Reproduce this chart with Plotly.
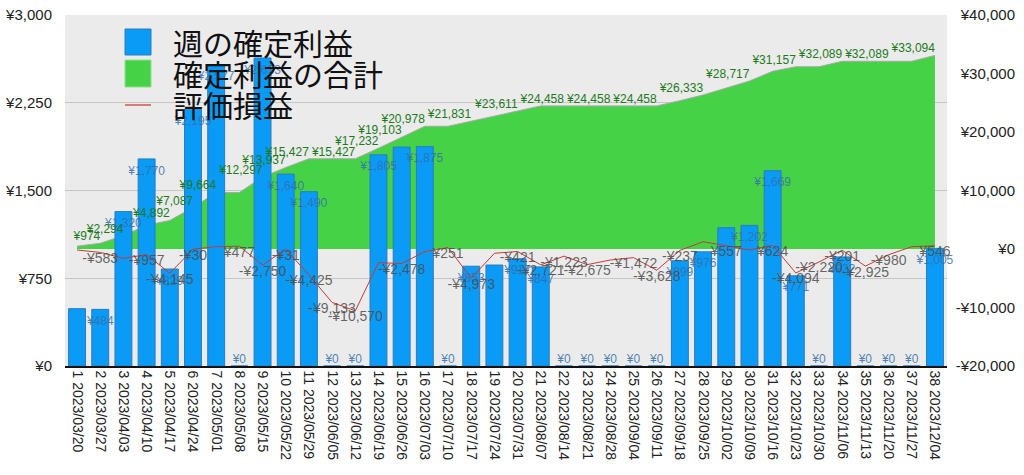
import plotly.graph_objects as go

# ---------------- data ----------------
dates = ["2023/03/20", "2023/03/27", "2023/04/03", "2023/04/10", "2023/04/17", "2023/04/24",
         "2023/05/01", "2023/05/08", "2023/05/15", "2023/05/22", "2023/05/29", "2023/06/05",
         "2023/06/12", "2023/06/19", "2023/06/26", "2023/07/03", "2023/07/10", "2023/07/17",
         "2023/07/24", "2023/07/31", "2023/08/07", "2023/08/14", "2023/08/21", "2023/08/28",
         "2023/09/04", "2023/09/11", "2023/09/18", "2023/09/25", "2023/10/02", "2023/10/09",
         "2023/10/16", "2023/10/23", "2023/10/30", "2023/11/06", "2023/11/13", "2023/11/20",
         "2023/11/27", "2023/12/04"]
categories = [f"{i + 1} {d}" for i, d in enumerate(dates)]

weekly_profit = [490, 484, 1320, 1770, 829, 2195, 2577, 0, 2633, 1640, 1490, 0, 0, 1805,
                 1871, 1875, 0, 853, 863, 917, 847, 0, 0, 0, 0, 0, 899, 976, 1182, 1202,
                 1669, 771, 0, 932, 0, 0, 0, 1005]

cumulative_profit = [490, 974, 2294, 4064, 4892, 7087, 9664, 9664, 12297, 13937, 15427,
                     15427, 15427, 17232, 19103, 20978, 20978, 21831, 22694, 23611, 24458,
                     24458, 24458, 24458, 24458, 24458, 25357, 26333, 27515, 28717, 30386,
                     31157, 31157, 32089, 32089, 32089, 32089, 33094]

unrealized = [-170, -583, -1590, -957, -4145, -30, 400, 477, -2750, -31, -4425, -9133,
              -10570, -2342, -2478, -461, 251, -4973, -735, -421, -2721, -1223, -2675,
              -1880, -1472, -3628, -237, 1250, 557, -170, 624, -4094, -2220, -201, -2925,
              -980, 393, 546]

# weeks whose data label is hidden (overlap-hidden in the original)
bar_label_hidden = [1, 15, 19, 29]
line_label_hidden = [1, 3, 7, 14, 16, 19, 24, 28, 30, 37]
area_label_hidden = [1, 4, 8, 12, 17, 19, 21, 23, 25, 27, 29, 31, 33, 35, 37]

left_ticks = [0, 750, 1500, 2250, 3000]
right_ticks = [-20000, -10000, 0, 10000, 20000, 30000, 40000]

series_names = ["週の確定利益", "確定利益の合計", "評価損益"]


def yen(v):
    return f"-¥{abs(v):,}" if v < 0 else f"¥{v:,}"


# ---------------- styling ----------------
FONT = "Liberation Sans, Arial, sans-serif"
JP = "Noto Sans CJK JP"
BLUE = "#0a9bf6"
BLUE_EDGE = "#2a7cc0"
GREEN = "#46d246"
RED = "#c23a3a"

fig = go.Figure()

# cumulative area (main hidden axis, same scale as right axis)
fig.add_trace(go.Scatter(
    x=categories, y=cumulative_profit, yaxis="y", mode="lines",
    fill="tozeroy", fillcolor=GREEN, line=dict(color="#a8a8a8", width=1),
    name=series_names[1], hoverinfo="skip"))

# weekly bars (left axis)
fig.add_trace(go.Bar(
    x=categories, y=weekly_profit, yaxis="y2", width=0.73,
    marker=dict(color=BLUE, line=dict(color=BLUE_EDGE, width=1)),
    name=series_names[0]))

# bar value labels (invisible marker only used to push the label inside the bar top)
fig.add_trace(go.Scatter(
    x=categories, y=weekly_profit, yaxis="y2", mode="markers+text",
    marker=dict(size=[0 if v == 0 else 9 for v in weekly_profit],
                color="rgba(0,0,0,0)", line=dict(width=0, color="rgba(0,0,0,0)")),
    text=["" if (i + 1) in bar_label_hidden else yen(v) for i, v in enumerate(weekly_profit)],
    textposition=["top center" if v == 0 else "bottom center" for v in weekly_profit],
    textfont=dict(family=FONT, size=12, color="rgba(50,110,170,0.85)"),
    cliponaxis=False, hoverinfo="skip"))

# unrealized P/L line (right axis)
fig.add_trace(go.Scatter(
    x=categories, y=unrealized, yaxis="y3", mode="lines",
    line=dict(color=RED, width=1), name=series_names[2]))

fig.add_trace(go.Scatter(
    x=categories, y=unrealized, yaxis="y3", mode="text",
    text=["" if (i + 1) in line_label_hidden else yen(v) for i, v in enumerate(unrealized)],
    textposition="bottom center",
    textfont=dict(family=FONT, size=14, color="rgba(75,75,75,0.85)"),
    cliponaxis=False, hoverinfo="skip"))

fig.add_trace(go.Scatter(
    x=categories, y=cumulative_profit, yaxis="y3", mode="text",
    text=["" if (i + 1) in area_label_hidden else yen(v) for i, v in enumerate(cumulative_profit)],
    textposition="top left",
    textfont=dict(family=FONT, size=12, color="#1d7a1d"),
    cliponaxis=False, hoverinfo="skip"))

# ---------------- layout ----------------
W, H = 1024, 475
ML, MR, MT, MB = 65, 6, 15, 109
plot_right = 947
pw = W - ML - MR
ph = H - MT - MB


def px_x(px):
    return (px - ML) / pw


def px_y(py):
    return (H - MB - py) / ph


fig.update_layout(
    width=W, height=H,
    margin=dict(l=ML, r=MR, t=MT, b=MB),
    paper_bgcolor="white", plot_bgcolor="#ebebeb",
    showlegend=False,
    font=dict(family=FONT, size=14, color="#222222"),
    xaxis=dict(domain=[0, px_x(plot_right)], type="category",
               range=[-0.52, len(categories) - 0.48],
               tickangle=90, tickfont=dict(size=14, color="#222222"),
               showgrid=False, showline=True, linecolor="#111111", linewidth=1.5,
               ticks=""),
    yaxis=dict(range=[right_ticks[0], right_ticks[-1]], showgrid=False,
               showticklabels=False, zeroline=False, visible=False),
    yaxis2=dict(overlaying="y", side="left", anchor="x",
                range=[left_ticks[0], left_ticks[-1]],
                tickvals=left_ticks, ticktext=[yen(v) for v in left_ticks],
                showgrid=True, gridcolor="#c6c6c6", gridwidth=1, zeroline=False,
                ticks="", ticklabelstandoff=12,
                tickfont=dict(size=15, color="#222222")),
    yaxis3=dict(overlaying="y", side="right", anchor="free", position=1.0,
                range=[right_ticks[0], right_ticks[-1]],
                tickvals=right_ticks, ticktext=[yen(v) for v in right_ticks],
                ticklabelposition="inside", ticklabeloverflow="allow",
                showgrid=False, zeroline=False,
                ticks="", showline=False,
                tickfont=dict(size=15, color="#222222")),
)

# manual legend (large swatches like the original)
legend_rows = [42, 73, 104]
sw_x0, sw_x1, text_x = 125, 151, 171
fig.add_shape(type="rect", xref="paper", yref="paper",
              x0=px_x(sw_x0), x1=px_x(sw_x1), y0=px_y(55), y1=px_y(29),
              fillcolor=BLUE, line=dict(color=BLUE_EDGE, width=1))
fig.add_shape(type="rect", xref="paper", yref="paper",
              x0=px_x(sw_x0), x1=px_x(sw_x1), y0=px_y(87), y1=px_y(60),
              fillcolor=GREEN, line=dict(color="#8fe08f", width=1))
fig.add_shape(type="line", xref="paper", yref="paper",
              x0=px_x(sw_x0), x1=px_x(sw_x1), y0=px_y(105), y1=px_y(105),
              line=dict(color="#d77a7a", width=2))
for name, row in zip(series_names, legend_rows):
    fig.add_annotation(xref="paper", yref="paper", x=px_x(text_x), y=px_y(row),
                       xanchor="left", yanchor="middle", showarrow=False,
                       text=name, font=dict(family=JP, size=30, color="#111111"))

fig.write_html("out.html")
